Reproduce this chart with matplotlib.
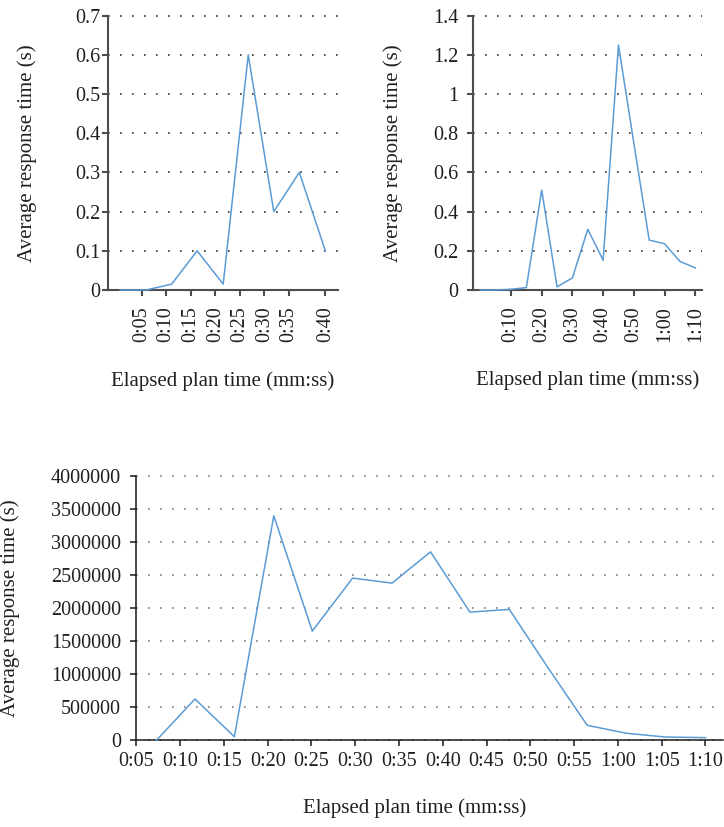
import matplotlib
matplotlib.use('Agg')
import matplotlib.pyplot as plt
from matplotlib.ticker import FixedLocator, FuncFormatter

plt.rcParams['font.family'] = ['Liberation Serif', 'DejaVu Serif']

# ---------------- data ----------------
# Chart A (top left)
a_time = [0.6, 5.9, 11.1, 16.3, 21.6, 26.7, 31.9, 37.1, 42.4]
a_resp = [0, 0, 0.015, 0.1, 0.015, 0.6, 0.2, 0.3, 0.1]
a_tick_times = [5, 10, 15, 20, 25, 30, 35, 42.4]
a_tick_labels = ['0:05', '0:10', '0:15', '0:20', '0:25', '0:30', '0:35', '0:40']
a_yticks = [0, 0.1, 0.2, 0.3, 0.4, 0.5, 0.6, 0.7]

# Chart B (top right)
b_time = [0, 5, 10, 15, 20, 25, 30, 35, 40, 45, 50, 55, 60, 65, 70]
b_resp = [0, 0, 0.004, 0.012, 0.51, 0.016, 0.062, 0.31, 0.152, 1.25, 0.75,
          0.255, 0.236, 0.146, 0.113]
b_tick_times = [10, 20, 30, 40, 50, 60, 70]
b_tick_labels = ['0:10', '0:20', '0:30', '0:40', '0:50', '1:00', '1:10']
b_yticks = [0, 0.2, 0.4, 0.6, 0.8, 1.0, 1.2, 1.4]

# Chart C (bottom)
c_time = [7.3, 11.7, 16.2, 20.7, 25.1, 29.7, 34.2, 38.6, 43.1, 47.6, 52.0,
          56.5, 61.0, 65.4, 70.0]
c_resp = [0, 624000, 54000, 3393000, 1651000, 2452000, 2376000, 2849000,
          1938000, 1979000, 1100000, 226000, 106000, 50000, 40000]
c_tick_times = [5, 10, 15, 20, 25, 30, 35, 40, 45, 50, 55, 60, 65, 70]
c_tick_labels = ['0:05', '0:10', '0:15', '0:20', '0:25', '0:30', '0:35',
                 '0:40', '0:45', '0:50', '0:55', '1:00', '1:05', '1:10']
c_yticks = [0, 500000, 1000000, 1500000, 2000000, 2500000, 3000000,
            3500000, 4000000]

XLABEL = 'Elapsed plan time (mm:ss)'
YLABEL = 'Average response time (s)'

LINE_COLOR = '#5B9BD5'
TEXT_COLOR = '#231F20'
FS_TICK = 14.5
FS_LABEL = 15

W, H = 724, 827
fig = plt.figure(figsize=(W / 100, H / 100), dpi=100)


def px_axes(l, t, r, b):
    return fig.add_axes([l / W, 1 - b / H, (r - l) / W, (b - t) / H])


def style(ax, spine_color, spine_lw, grid_color, ypad, xpad, rot):
    for s in ['top', 'right']:
        ax.spines[s].set_visible(False)
    for s in ['left', 'bottom']:
        ax.spines[s].set_color(spine_color)
        ax.spines[s].set_linewidth(spine_lw)
    ax.tick_params(axis='both', direction='out', length=4.5, width=spine_lw,
                   color=spine_color, labelsize=FS_TICK, labelcolor=TEXT_COLOR)
    ax.tick_params(axis='y', pad=ypad)
    ax.tick_params(axis='x', pad=xpad, labelrotation=rot)
    ax.yaxis.grid(True, color=grid_color, linewidth=1.2,
                  linestyle=(0, (1, 6.2)))
    ax.set_axisbelow(True)
    for gl in ax.get_ygridlines():
        gl.set_clip_on(False)


fmt = FuncFormatter(lambda v, p: '%g' % v)

# ---- Chart A ----
axA = px_axes(108, 15.7, 338, 290)
axA.plot(a_time, a_resp, color=LINE_COLOR, lw=1.1, zorder=3, clip_on=False)
axA.set_xlim(-1.86, 44.98)
axA.set_ylim(0, 0.7)
axA.xaxis.set_major_locator(FixedLocator(a_tick_times))
axA.set_xticklabels(a_tick_labels)
axA.yaxis.set_major_locator(FixedLocator(a_yticks))
axA.yaxis.set_major_formatter(fmt)
style(axA, '#4D4D4D', 1.5, '#333333', 1.2, 7, 90)
axA.set_xlabel(XLABEL, fontsize=FS_LABEL, color=TEXT_COLOR, va='center')
axA.xaxis.set_label_coords(0.5, -0.332)
axA.set_ylabel(YLABEL, fontsize=FS_LABEL, color=TEXT_COLOR, va='center')
axA.yaxis.set_label_coords(-0.352, 0.5)

# ---- Chart B ----
axB = px_axes(472.7, 15.7, 702, 290)
axB.plot(b_time, b_resp, color=LINE_COLOR, lw=1.1, zorder=3, clip_on=False)
axB.set_xlim(-2.47, 72.2)
axB.set_ylim(0, 1.4)
axB.xaxis.set_major_locator(FixedLocator(b_tick_times))
axB.set_xticklabels(b_tick_labels)
axB.yaxis.set_major_locator(FixedLocator(b_yticks))
axB.yaxis.set_major_formatter(fmt)
style(axB, '#4D4D4D', 1.5, '#333333', 6, 7, 90)
axB.set_xlabel(XLABEL, fontsize=FS_LABEL, color=TEXT_COLOR, va='center')
axB.xaxis.set_label_coords(0.5, -0.328)
axB.set_ylabel(YLABEL, fontsize=FS_LABEL, color=TEXT_COLOR, va='center')
axB.yaxis.set_label_coords(-0.348, 0.5)

# ---- Chart C ----
axC = px_axes(136.3, 475.7, 723, 740.3)
axC.plot(c_time, c_resp, color=LINE_COLOR, lw=1.1, zorder=3, clip_on=False)
axC.set_xlim(5, 72.0)
axC.set_ylim(0, 4000000)
axC.xaxis.set_major_locator(FixedLocator(c_tick_times))
axC.set_xticklabels(c_tick_labels)
axC.yaxis.set_major_locator(FixedLocator(c_yticks))
axC.yaxis.set_major_formatter(FuncFormatter(lambda v, p: '%d' % v))
style(axC, '#1A1A1A', 1.1, '#808080', 6.5, 4, 0)
axC.set_xlabel(XLABEL, fontsize=FS_LABEL, color=TEXT_COLOR, va='center')
axC.xaxis.set_label_coords(0.474, -0.256)
axC.set_ylabel(YLABEL, fontsize=FS_LABEL, color=TEXT_COLOR, va='center')
axC.yaxis.set_label_coords(-0.215, 0.5)

fig.savefig('out.png', dpi=100)
